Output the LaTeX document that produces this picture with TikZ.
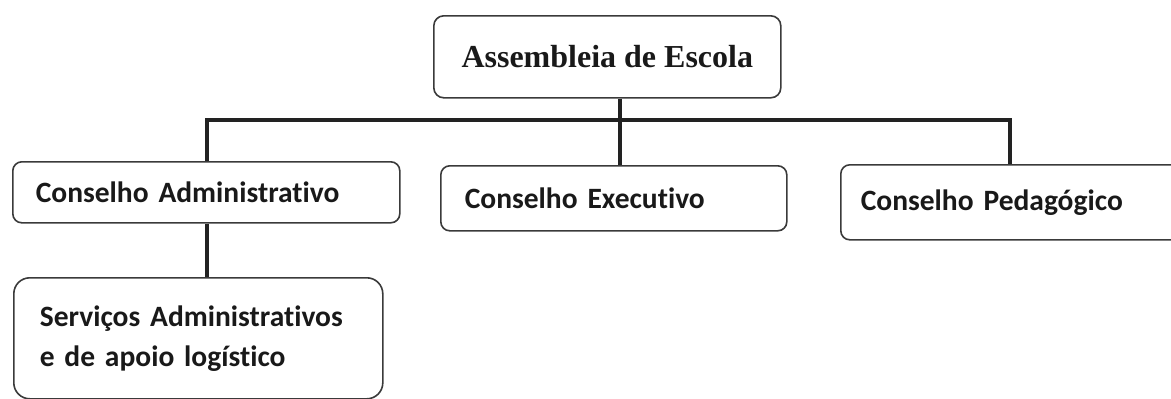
\documentclass[tikz,border=0pt]{standalone}
\usepackage{fontspec}
\usetikzlibrary{positioning,calc}
\newfontfamily\calibrif[Ligatures=NoCommon,WordSpace=0.7]{Carlito}
\newfontfamily\timesf{Liberation Serif}
\definecolor{borda}{HTML}{3A3A3A}
\definecolor{traco}{HTML}{222222}

\tikzset{
  caixa/.style={draw=borda, line width=1.6pt, rounded corners=9pt, anchor=north west,
    align=left, inner ysep=0pt, text=black!90,
    font=\calibrif\bfseries\fontsize{29.5}{40}\selectfont},
  linha/.style={draw=traco, line width=3.4pt},
}

\begin{document}
\begin{tikzpicture}[x=1pt,y=-1pt]

    \useasboundingbox (0,0) rectangle (1171,399);
    \clip (0,0) rectangle (1171,399);

    \node[caixa, align=center, rounded corners=10pt, minimum width=347pt, minimum height=82pt,
      font=\timesf\bfseries\fontsize{32}{38}\selectfont] (assembleia) at (433,15) {Assembleia de Escola}; % topo

    \node[caixa, text width=341pt, inner xsep=23pt, minimum height=61pt] (administrativo) at (12,161) {Conselho Administrativo};
    \node[caixa, text width=298pt, inner xsep=24pt, minimum height=65pt] (executivo) at (440,165) {Conselho Executivo};
    \node[caixa, text width=310pt, inner xsep=20pt, minimum height=75pt] (pedagogico) at (840,164) {Conselho Pedagógico}; % cortada
    \node[caixa, rounded corners=16pt, text width=317pt, inner xsep=26pt, minimum height=121pt] (servicos) at (13,277) {Serviços Administrativos\\e de apoio logístico};

    \coordinate (tronco) at (620,120);
    \coordinate (esq) at (207,120);
    \coordinate (dir) at (1010,120);

    \draw[linha] (assembleia.south -| tronco) -- (executivo.north -| tronco);
    \draw[linha] (administrativo.north -| esq) -- (esq) -- (dir) -- (pedagogico.north -| dir); % barra
    \draw[linha] (administrativo.south -| esq) -- (servicos.north -| esq);

  \end{tikzpicture}
\end{document}
